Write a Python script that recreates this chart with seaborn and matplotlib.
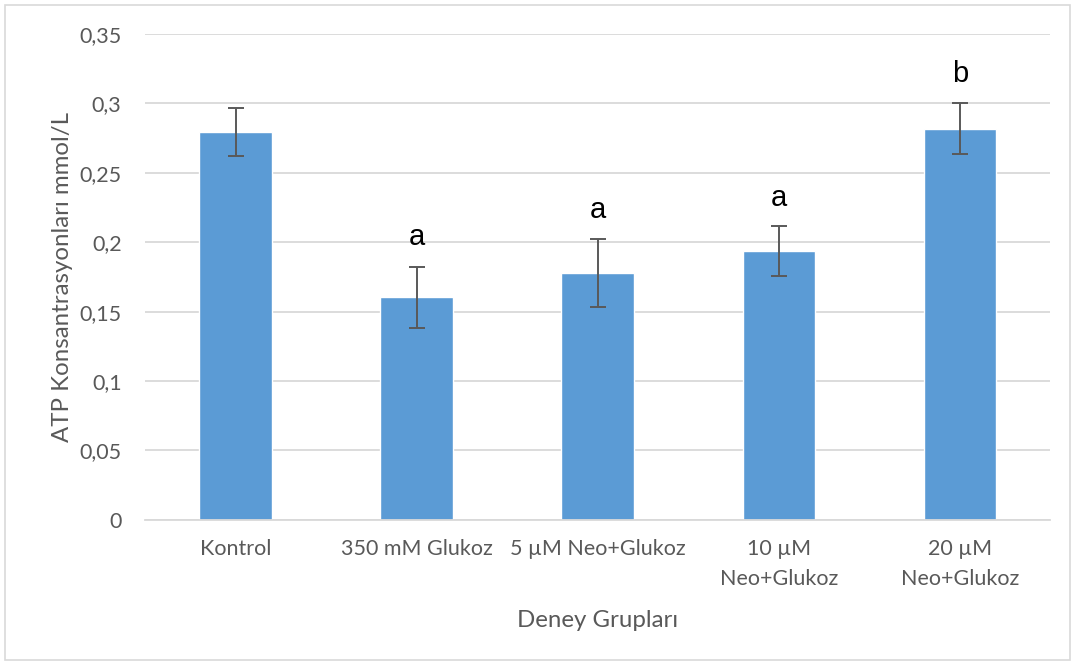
import matplotlib
matplotlib.use("Agg")
import matplotlib.pyplot as plt
from matplotlib.patches import Rectangle
import seaborn as sns
import pandas as pd

groups = ["Kontrol", "350 mM Glukoz", "5 µM Neo+Glukoz", "10 µM\nNeo+Glukoz", "20 µM\nNeo+Glukoz"]
atp = [0.2795, 0.1602, 0.1778, 0.1935, 0.2818]
err = [0.0174, 0.0220, 0.0242, 0.0180, 0.0186]
letters = ["", "a", "a", "a", "b"]
letter_y = [None, 0.194, 0.213, 0.2215, 0.311]

sns.set_theme(style="white")
plt.rcParams["font.family"] = ["Lato", "DejaVu Sans"]

text_col = "#595959"
bar_col = "#5B9BD5"
grid_col = "#D9D9D9"

df = pd.DataFrame({"group": groups, "atp": atp})

fig = plt.figure(figsize=(10.75, 6.64), dpi=100)
ax = fig.add_axes([0.135, 0.217, 0.842, 0.732])

sns.barplot(data=df, x="group", y="atp", color=bar_col, saturation=1,
            width=0.40, errorbar=None, ax=ax, zorder=2)

xs = ax.get_xticks()
ax.errorbar(xs, atp, yerr=err, fmt="none", ecolor=text_col, elinewidth=1.4,
            capsize=6, capthick=1.4, zorder=3)

for x, lab, ly in zip(xs, letters, letter_y):
    if lab:
        ax.text(x, ly, lab, ha="center", va="bottom", fontsize=21,
                color="black", family=["Liberation Sans", "DejaVu Sans"])

ax.set_ylim(0, 0.35)
ax.set_xlim(-0.5, len(groups) - 0.5)
yt = [0, 0.05, 0.1, 0.15, 0.2, 0.25, 0.3, 0.35]
ax.set_yticks(yt)
ax.set_yticklabels(["0", "0,05", "0,1", "0,15", "0,2", "0,25", "0,3", "0,35"])
ax.yaxis.grid(True, color=grid_col, linewidth=1.3, zorder=0)
ax.set_axisbelow(True)
for s in ["top", "right", "left"]:
    ax.spines[s].set_visible(False)
ax.spines["bottom"].set_color(grid_col)
ax.spines["bottom"].set_linewidth(1.3)

ax.tick_params(axis="both", length=0, labelsize=15.5, colors=text_col)
ax.tick_params(axis="y", pad=17)
ax.tick_params(axis="x", pad=14)
for t in ax.get_xticklabels():
    t.set_linespacing(1.6)

ax.set_xlabel("Deney Grupları", fontsize=17.3, color=text_col, labelpad=15)
ax.set_ylabel("ATP Konsantrasyonları mmol/L", fontsize=17.3, color=text_col)
ax.yaxis.set_label_coords(-0.080, 0.5)

fig.patches.append(Rectangle((5 / 1075, 4 / 664), 1065 / 1075, 655 / 664,
                             transform=fig.transFigure, fill=False,
                             edgecolor="#D9D9D9", linewidth=1.2))

fig.savefig("out.png", dpi=100)
